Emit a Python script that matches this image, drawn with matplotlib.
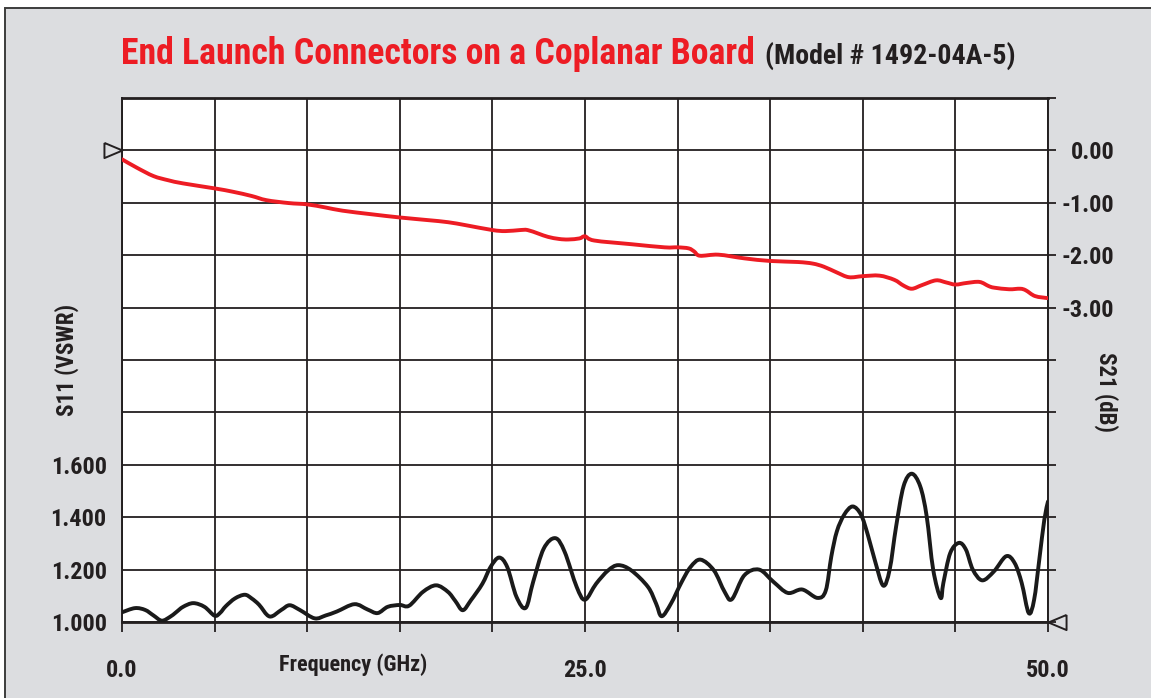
import numpy as np
import matplotlib
matplotlib.use("Agg")
import matplotlib.pyplot as plt
from matplotlib.patches import Rectangle, PathPatch
from matplotlib.path import Path
from matplotlib import font_manager as fm

# ---------------- data ----------------
s11_freq = [0.0, 0.7, 1.25, 1.7, 2.15, 2.6, 2.9, 3.3, 3.85, 4.45, 5.0, 5.3, 5.6, 6.1, 6.63,
            7.0, 7.4, 7.97, 8.6, 9.05, 9.6, 10.4, 11.0, 11.6, 12.55, 13.25, 13.8, 14.35,
            15.0, 15.5, 16.25, 16.96, 17.6, 18.0, 18.4, 18.84, 19.46, 19.9, 20.36, 20.8,
            21.3, 21.8, 22.2, 22.77, 23.4, 23.9, 24.55, 25.0, 25.6, 26.25, 26.8, 27.5,
            28.4, 28.84, 29.14, 29.64, 30.2, 30.7, 31.24, 31.96, 32.54, 32.93, 33.6, 34.4,
            35.18, 35.95, 36.73, 37.55, 38.0, 38.3, 38.6, 39.0, 39.45, 39.9, 40.27, 40.64,
            41.1, 41.45, 41.8, 42.2, 42.64, 43.1, 43.45, 43.8, 44.2, 44.35, 44.72, 45.19,
            45.57, 45.94, 46.45, 47.08, 47.74, 48.2, 48.58, 48.96, 49.25, 49.53, 49.8, 50.0]
s11_vswr = [1.037, 1.053, 1.046, 1.025, 1.005, 1.020, 1.036, 1.058, 1.072, 1.058, 1.024,
            1.035, 1.060, 1.090, 1.104, 1.090, 1.066, 1.021, 1.046, 1.064, 1.046, 1.014,
            1.025, 1.040, 1.068, 1.048, 1.034, 1.058, 1.065, 1.062, 1.115, 1.140, 1.115,
            1.080, 1.045, 1.083, 1.146, 1.210, 1.246, 1.210, 1.096, 1.054, 1.153, 1.280,
            1.320, 1.268, 1.134, 1.085, 1.146, 1.197, 1.217, 1.197, 1.134, 1.070, 1.022,
            1.070, 1.150, 1.210, 1.238, 1.197, 1.115, 1.087, 1.178, 1.200, 1.153, 1.111,
            1.124, 1.092, 1.120, 1.250, 1.346, 1.410, 1.441, 1.410, 1.333, 1.238, 1.139,
            1.200, 1.365, 1.518, 1.566, 1.518, 1.403, 1.200, 1.092, 1.149, 1.263, 1.302,
            1.276, 1.200, 1.159, 1.193, 1.251, 1.225, 1.149, 1.034, 1.085, 1.238, 1.390,
            1.460]

s21_freq = [0.0, 0.8, 1.7, 2.5, 3.3, 5.0, 6.0, 7.0, 7.8, 9.0, 10.0, 11.0, 11.9, 13.5, 15.0,
            16.5, 17.6, 18.6, 20.0, 20.7, 21.5, 21.9, 22.5, 23.0, 23.6, 24.1, 24.7, 25.0,
            25.5, 27.5, 29.3, 30.0, 30.6, 30.9, 31.2, 32.2, 33.6, 35.0, 36.5, 37.3, 37.9,
            38.6, 39.25, 40.0, 40.9, 41.7, 42.2, 42.65, 43.2, 43.95, 44.5, 45.0, 45.6, 46.3,
            46.8, 47.1, 47.9, 48.5, 48.8, 49.3, 50.0]
s21_db = [-0.17, -0.33, -0.49, -0.57, -0.63, -0.725, -0.79, -0.87, -0.95, -1.005, -1.03,
          -1.09, -1.15, -1.22, -1.28, -1.33, -1.37, -1.43, -1.52, -1.54, -1.52, -1.52,
          -1.59, -1.65, -1.69, -1.70, -1.68, -1.64, -1.72, -1.79, -1.85, -1.85, -1.87,
          -1.93, -2.01, -1.99, -2.06, -2.11, -2.13, -2.16, -2.22, -2.33, -2.42, -2.40,
          -2.39, -2.47, -2.58, -2.64, -2.57, -2.48, -2.52, -2.56, -2.53, -2.51, -2.59,
          -2.62, -2.65, -2.64, -2.67, -2.78, -2.82]

x_ticks = [0, 5, 10, 15, 20, 25, 30, 35, 40, 45, 50]
x_labels = ["0.0", "", "", "", "", "25.0", "", "", "", "", "50.0"]
left_ticks = [1.0, 1.2, 1.4, 1.6, 1.8, 2.0, 2.2, 2.4, 2.6, 2.8, 3.0]
left_labels = ["1.000", "1.200", "1.400", "1.600", "", "", "", "", "", "", ""]
right_ticks = [-9, -8, -7, -6, -5, -4, -3, -2, -1, 0, 1]
right_labels = ["", "", "", "", "", "", "-3.00", "-2.00", "-1.00", "0.00", ""]

title_main = "End Launch Connectors on a Coplanar Board"
title_model = "(Model # 1492-04A-5)"

# ---------------- font choice (prefer a narrow bold sans) ----------------
_fonts = fm.fontManager.ttflist
_names = {f.name for f in _fonts}
STRETCH = "normal"
FAMILY = None
for cand in ["Liberation Sans Narrow", "Roboto Condensed", "Open Sans Condensed",
             "DejaVu Sans Condensed", "Noto Sans Condensed"]:
    if cand in _names:
        FAMILY = cand
        break
if FAMILY is None:
    if any(f.name == "DejaVu Sans" and "Condensed" in f.fname for f in _fonts):
        FAMILY = "DejaVu Sans"
        STRETCH = "condensed"
    elif "Roboto" in _names:
        FAMILY = "Roboto"
    else:
        FAMILY = "Liberation Sans"
plt.rcParams["font.family"] = [FAMILY, "DejaVu Sans"]
plt.rcParams["font.stretch"] = STRETCH

INK = "#231f20"
RED = "#ed1c24"
PANEL = "#dcdde0"
W, H = 1151, 698


def smooth_path(xs, ys):
    """Smooth (Catmull-Rom style) Bezier path running through the given points."""
    p = np.column_stack([xs, ys]).astype(float)
    n = len(p)
    verts = [p[0]]
    codes = [Path.MOVETO]
    for i in range(n - 1):
        p0 = p[i - 1] if i > 0 else p[i]
        p1 = p[i]
        p2 = p[i + 1]
        p3 = p[i + 2] if i + 2 < n else p[i + 1]
        c1 = p1 + (p2 - p0) / 6.0
        c2 = p2 - (p3 - p1) / 6.0
        verts += [c1, c2, p2]
        codes += [Path.CURVE4] * 3
    return Path(verts, codes)


fig = plt.figure(figsize=(W / 100, H / 100), dpi=100, facecolor="white")
fig.patches.append(Rectangle((5 / W, -0.1), 1.2, (1 - 8 / H) + 0.1,
                             transform=fig.transFigure, facecolor=PANEL,
                             edgecolor="#3c3c3c", lw=1.4, zorder=-5))

ax = fig.add_axes([122 / W, 76 / H, 926 / W, 524 / H])
ax.set_facecolor("white")
ax.set_xlim(0, 50)
ax.set_ylim(1.0, 3.0)
ax.set_axisbelow(True)
ax.set_xticks(x_ticks)
ax.set_xticklabels(x_labels)
ax.set_yticks(left_ticks)
ax.set_yticklabels(left_labels)
ax.grid(True, color=INK, lw=1.3)
for side, sp in ax.spines.items():
    sp.set_color(INK)
    sp.set_linewidth(2.0 if side in ("top", "bottom") else 1.4)
ax.tick_params(axis="x", direction="out", length=7.5, width=1.3, color=INK,
               pad=19, labelsize=17.5, labelcolor=INK)
ax.tick_params(axis="y", length=0, pad=11, labelsize=17.5, labelcolor=INK)
for t in ax.get_xticklabels() + ax.get_yticklabels():
    t.set_fontweight("bold")

ax2 = ax.twinx()
ax2.set_ylim(-9, 1)
ax2.set_yticks(right_ticks)
ax2.set_yticklabels(right_labels)
for sp in ax2.spines.values():
    sp.set_visible(False)
ax2.tick_params(axis="y", direction="out", length=5.8, width=1.3, color=INK,
                pad=42, labelsize=17.5, labelcolor=INK)
for t in ax2.get_yticklabels():
    t.set_fontweight("bold")
    t.set_horizontalalignment("right")

# data lines (smooth curves through the read points)
ax.add_patch(PathPatch(smooth_path(s11_freq, s11_vswr), fill=False,
                       edgecolor="#1a1a1a", lw=2.8, joinstyle="round",
                       capstyle="round", zorder=5))
ax2.add_patch(PathPatch(smooth_path(s21_freq, s21_db), fill=False,
                        edgecolor=RED, lw=2.8, joinstyle="round",
                        capstyle="round", zorder=5))

# reference markers (hollow triangles)
tri_right = [(-1, 0.42), (0, 0), (-1, -0.42), (-1, 0.42)]
tri_left = [(1, 0.42), (0, 0), (1, -0.42), (1, 0.42)]
ax2.plot([0], [0], marker=tri_right, markersize=26, markerfacecolor="none",
         markeredgecolor=INK, markeredgewidth=1.4, clip_on=False, zorder=6)
ax.plot([50], [1.0], marker=tri_left, markersize=26, markerfacecolor="none",
        markeredgecolor=INK, markeredgewidth=1.4, clip_on=False, zorder=6)

# texts
renderer = fig.canvas.get_renderer()


def fit_text(x, y, s, target_w, size, horizontal=True, **kw):
    t = fig.text(x, y, s, fontsize=size, **kw)
    ext = t.get_window_extent(renderer=renderer)
    w = ext.width if horizontal else ext.height
    t.set_fontsize(size * target_w / w)
    return t


t1 = fit_text(121 / W, 1 - 64 / H, title_main, 636, 24, color=RED,
              fontweight="bold", ha="left", va="baseline")
bb = t1.get_window_extent(renderer=renderer)
fit_text((bb.x1 + 10) / W, 1 - 64 / H, title_model, 250, 17.5, color=INK,
         fontweight="bold", ha="left", va="baseline")

fit_text(67 / W, 1 - 360 / H, "S11 (VSWR)", 112, 16, horizontal=False, rotation=90,
         ha="center", va="center", fontweight="bold", color=INK)
fit_text(1106 / W, 1 - 392 / H, "S21 (dB)", 80, 16, horizontal=False, rotation=-90,
         ha="center", va="center", fontweight="bold", color=INK)
fig.text(353 / W, 1 - 665 / H, "Frequency (GHz)", ha="center", va="center",
         fontsize=16, fontweight="bold", color=INK)

fig.savefig("out.png", dpi=100, facecolor=fig.get_facecolor())
